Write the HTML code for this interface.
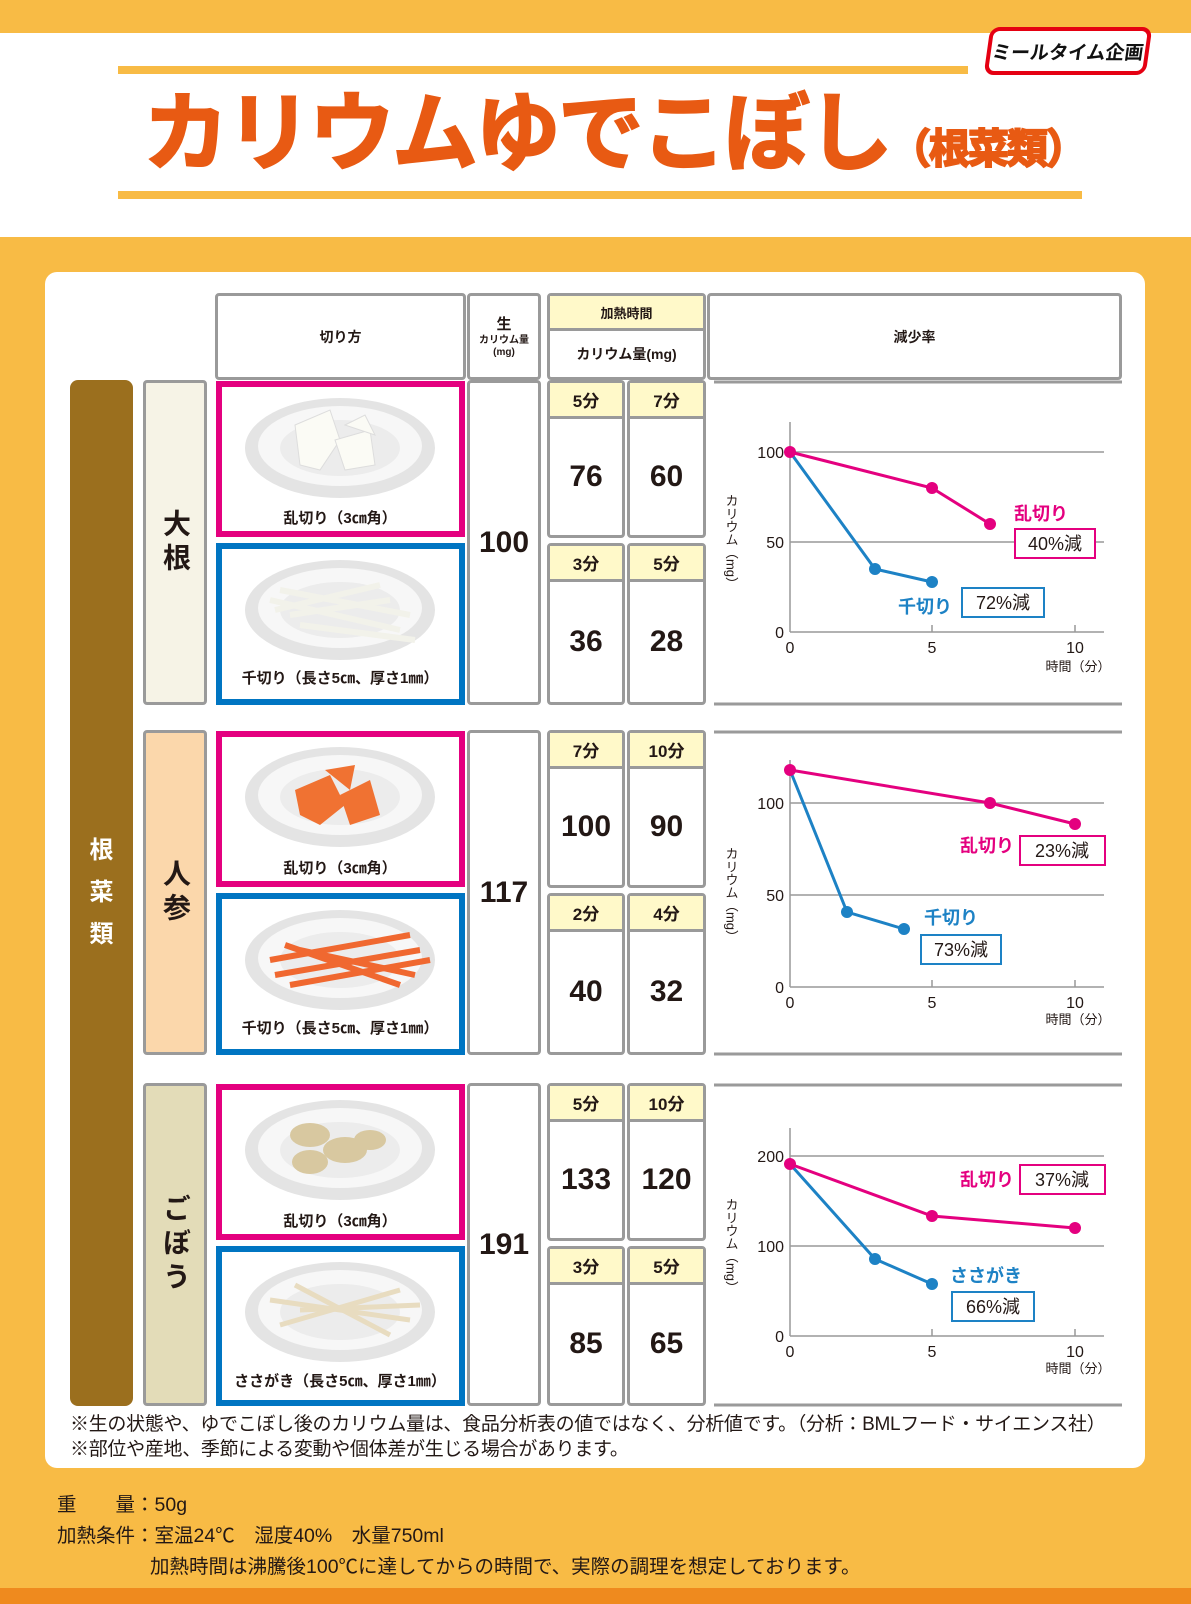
<!DOCTYPE html>
<html><head><meta charset="utf-8">
<style>
*{margin:0;padding:0;box-sizing:border-box}
body{width:1191px;height:1604px;position:relative;background:#f8bb45;font-family:"Liberation Sans","Noto Sans CJK JP",sans-serif;font-weight:bold;color:#231815;overflow:hidden}
.a{position:absolute}
.c{display:flex;align-items:center;justify-content:center;text-align:center}
.cell{position:absolute;border:3px solid #9a9a9a;border-radius:4px;background:#fff}
.y{background:#fff9c9}
.num{font-size:30px}
.tm{font-size:17px}
.v{writing-mode:vertical-rl;font-size:28px;letter-spacing:6px}
</style></head><body>
<div class="a" style="left:0;top:33px;width:1191px;height:204px;background:#fff"></div>
<div class="a" style="left:118px;top:66px;width:850px;height:8px;background:#f8bb45"></div>
<div class="a" style="left:118px;top:191px;width:964px;height:8px;background:#f8bb45"></div>
<div class="a c" style="left:987px;top:27px;width:162px;height:48px;border:4px solid #e50012;border-radius:10px;background:#fff;transform:skewX(-8deg);font-size:19px;color:#111">ミールタイム企画</div>
<div class="a" style="left:143px;top:84px;font-size:86px;color:#e85a13;letter-spacing:-3px;line-height:100px;white-space:nowrap;-webkit-text-stroke:2px #e85a13">カリウムゆでこぼし<span style="font-size:41px;letter-spacing:-2px">（根菜類）</span></div>

<div class="a" style="left:45px;top:272px;width:1100px;height:1196px;background:#fff;border-radius:12px"></div>

<div class="cell c" style="left:215px;top:293px;width:251px;height:87px;font-size:14px">切り方</div>
<div class="cell c" style="left:467px;top:293px;width:74px;height:87px;flex-direction:column;font-size:10px;line-height:12px"><div style="font-size:15px;line-height:20px">生</div><div>カリウム量</div><div>(mg)</div></div>
<div class="cell" style="left:547px;top:293px;width:159px;height:87px"></div>
<div class="a c y" style="left:550px;top:296px;width:153px;height:35px;font-size:13px;border-bottom:3px solid #9a9a9a">加熱時間</div>
<div class="a c" style="left:550px;top:331px;width:153px;height:46px;font-size:14px">カリウム量(mg)</div>
<div class="cell c" style="left:707px;top:293px;width:415px;height:87px;font-size:14px">減少率</div>

<div class="a c" style="left:70px;top:380px;width:63px;height:1026px;background:#9b6f1e;border-radius:8px;color:#fff;font-size:24px;flex-direction:column;line-height:42px">根<br>菜<br>類</div>

<div class="cell c" style="left:143px;top:380px;width:64px;height:325px;background:#f6f3e6"><span class="v">大根</span></div>
<div class="cell c" style="left:143px;top:730px;width:64px;height:325px;background:#fbd7ab"><span class="v">人参</span></div>
<div class="cell c" style="left:143px;top:1083px;width:64px;height:323px;background:#e3dcb8"><span class="v">ごぼう</span></div>

<div class="cell c num" style="left:467px;top:380px;width:74px;height:325px">100</div>
<div class="cell" style="left:547px;top:380px;width:78px;height:158px"></div>
<div class="a c y tm" style="left:550px;top:383px;width:72px;height:36px;border-bottom:3px solid #9a9a9a">5分</div>
<div class="a c num" style="left:550px;top:419px;width:72px;height:116px">76</div>
<div class="cell" style="left:627px;top:380px;width:79px;height:158px"></div>
<div class="a c y tm" style="left:630px;top:383px;width:73px;height:36px;border-bottom:3px solid #9a9a9a">7分</div>
<div class="a c num" style="left:630px;top:419px;width:73px;height:116px">60</div>
<div class="cell" style="left:547px;top:543px;width:78px;height:162px"></div>
<div class="a c y tm" style="left:550px;top:546px;width:72px;height:36px;border-bottom:3px solid #9a9a9a">3分</div>
<div class="a c num" style="left:550px;top:582px;width:72px;height:120px">36</div>
<div class="cell" style="left:627px;top:543px;width:79px;height:162px"></div>
<div class="a c y tm" style="left:630px;top:546px;width:73px;height:36px;border-bottom:3px solid #9a9a9a">5分</div>
<div class="a c num" style="left:630px;top:582px;width:73px;height:120px">28</div>

<div class="cell c num" style="left:467px;top:730px;width:74px;height:325px">117</div>
<div class="cell" style="left:547px;top:730px;width:78px;height:158px"></div>
<div class="a c y tm" style="left:550px;top:733px;width:72px;height:36px;border-bottom:3px solid #9a9a9a">7分</div>
<div class="a c num" style="left:550px;top:769px;width:72px;height:116px">100</div>
<div class="cell" style="left:627px;top:730px;width:79px;height:158px"></div>
<div class="a c y tm" style="left:630px;top:733px;width:73px;height:36px;border-bottom:3px solid #9a9a9a">10分</div>
<div class="a c num" style="left:630px;top:769px;width:73px;height:116px">90</div>
<div class="cell" style="left:547px;top:893px;width:78px;height:162px"></div>
<div class="a c y tm" style="left:550px;top:896px;width:72px;height:36px;border-bottom:3px solid #9a9a9a">2分</div>
<div class="a c num" style="left:550px;top:932px;width:72px;height:120px">40</div>
<div class="cell" style="left:627px;top:893px;width:79px;height:162px"></div>
<div class="a c y tm" style="left:630px;top:896px;width:73px;height:36px;border-bottom:3px solid #9a9a9a">4分</div>
<div class="a c num" style="left:630px;top:932px;width:73px;height:120px">32</div>

<div class="cell c num" style="left:467px;top:1083px;width:74px;height:323px">191</div>
<div class="cell" style="left:547px;top:1083px;width:78px;height:158px"></div>
<div class="a c y tm" style="left:550px;top:1086px;width:72px;height:36px;border-bottom:3px solid #9a9a9a">5分</div>
<div class="a c num" style="left:550px;top:1122px;width:72px;height:116px">133</div>
<div class="cell" style="left:627px;top:1083px;width:79px;height:158px"></div>
<div class="a c y tm" style="left:630px;top:1086px;width:73px;height:36px;border-bottom:3px solid #9a9a9a">10分</div>
<div class="a c num" style="left:630px;top:1122px;width:73px;height:116px">120</div>
<div class="cell" style="left:547px;top:1246px;width:78px;height:160px"></div>
<div class="a c y tm" style="left:550px;top:1249px;width:72px;height:36px;border-bottom:3px solid #9a9a9a">3分</div>
<div class="a c num" style="left:550px;top:1285px;width:72px;height:118px">85</div>
<div class="cell" style="left:627px;top:1246px;width:79px;height:160px"></div>
<div class="a c y tm" style="left:630px;top:1249px;width:73px;height:36px;border-bottom:3px solid #9a9a9a">5分</div>
<div class="a c num" style="left:630px;top:1285px;width:73px;height:118px">65</div>

<svg class="a" style="left:0;top:0" width="1191" height="1604" font-family="Liberation Sans, Noto Sans CJK JP, sans-serif" font-weight="bold">
<defs>
<g id="plate"><ellipse cx="0" cy="0" rx="95" ry="50" fill="#e4e4e4"/><ellipse cx="0" cy="-2" rx="82" ry="40" fill="#f7f7f7"/><ellipse cx="0" cy="0" rx="60" ry="28" fill="#ececec"/></g>
</defs>
<g fill="#fff" stroke-width="6">
<rect x="219" y="384" width="243" height="150" stroke="#e4007f"/>
<rect x="219" y="546" width="243" height="156" stroke="#0075c2"/>
<rect x="219" y="734" width="243" height="150" stroke="#e4007f"/>
<rect x="219" y="896" width="243" height="156" stroke="#0075c2"/>
<rect x="219" y="1087" width="243" height="150" stroke="#e4007f"/>
<rect x="219" y="1249" width="243" height="154" stroke="#0075c2"/>
</g>
<use href="#plate" x="340" y="448"/><use href="#plate" x="340" y="610"/>
<use href="#plate" x="340" y="797"/><use href="#plate" x="340" y="960"/>
<use href="#plate" x="340" y="1150"/><use href="#plate" x="340" y="1312"/>
<g fill="#fbfbf5" stroke="#ddd"><polygon points="295,425 330,410 340,440 320,470 300,465"/><polygon points="335,440 370,430 375,465 345,470"/><polygon points="345,425 365,415 375,435"/></g>
<g stroke="#f2f2ea" stroke-width="6"><line x1="270" y1="600" x2="400" y2="630"/><line x1="280" y1="590" x2="410" y2="615"/><line x1="290" y1="615" x2="390" y2="600"/><line x1="300" y1="625" x2="415" y2="640"/><line x1="275" y1="610" x2="380" y2="585"/></g>
<g fill="#f07232"><polygon points="295,790 330,775 345,805 320,825 300,815"/><polygon points="340,795 370,780 380,815 350,825"/><polygon points="325,770 355,765 350,790"/></g>
<g stroke="#f06830" stroke-width="6"><line x1="270" y1="960" x2="410" y2="935"/><line x1="275" y1="975" x2="420" y2="950"/><line x1="285" y1="945" x2="400" y2="985"/><line x1="290" y1="985" x2="430" y2="960"/><line x1="300" y1="950" x2="415" y2="975"/></g>
<g fill="#d8c8a0"><ellipse cx="310" cy="1135" rx="20" ry="12"/><ellipse cx="345" cy="1150" rx="22" ry="13"/><ellipse cx="310" cy="1162" rx="18" ry="12"/><ellipse cx="370" cy="1140" rx="16" ry="10"/></g>
<g stroke="#e8dcc0" stroke-width="5"><line x1="270" y1="1300" x2="410" y2="1320"/><line x1="280" y1="1325" x2="400" y2="1290"/><line x1="295" y1="1285" x2="390" y2="1335"/><line x1="300" y1="1310" x2="420" y2="1305"/></g>
<g font-size="15" fill="#231815" text-anchor="middle">
<text x="340" y="523">乱切り（3㎝角）</text>
<text x="340" y="683">千切り（長さ5㎝、厚さ1㎜）</text>
<text x="340" y="873">乱切り（3㎝角）</text>
<text x="340" y="1033">千切り（長さ5㎝、厚さ1㎜）</text>
<text x="340" y="1226">乱切り（3㎝角）</text>
<text x="340" y="1386">ささがき（長さ5㎝、厚さ1㎜）</text>
</g>

<g stroke="#9a9a9a" stroke-width="3">
<line x1="714" y1="382" x2="1122" y2="382"/><line x1="714" y1="704" x2="1122" y2="704"/>
<line x1="714" y1="732" x2="1122" y2="732"/><line x1="714" y1="1054" x2="1122" y2="1054"/>
<line x1="714" y1="1085" x2="1122" y2="1085"/><line x1="714" y1="1405" x2="1122" y2="1405"/>
</g>

<g font-weight="normal" font-size="16" fill="#231815">
<g stroke="#999" stroke-width="1.5"><line x1="790" y1="422" x2="790" y2="632"/><line x1="790" y1="632" x2="1104" y2="632"/><line x1="790" y1="452" x2="1104" y2="452"/><line x1="790" y1="542" x2="1104" y2="542"/><line x1="932" y1="625" x2="932" y2="632"/><line x1="1075" y1="625" x2="1075" y2="632"/></g>
<g text-anchor="end"><text x="784" y="458">100</text><text x="784" y="548">50</text><text x="784" y="638">0</text></g>
<g text-anchor="middle"><text x="790" y="653">0</text><text x="932" y="653">5</text><text x="1075" y="653">10</text><text x="1078" y="671" font-size="13">時間（分）</text></g>
<text x="731" y="542" font-size="13" writing-mode="tb" text-anchor="middle">カリウム（mg）</text>
<polyline points="790,452 932,488 990,524" fill="none" stroke="#e4007f" stroke-width="3"/>
<polyline points="790,452 875,569 932,582" fill="none" stroke="#1d82c5" stroke-width="3"/>
<g fill="#e4007f"><circle cx="790" cy="452" r="6"/><circle cx="932" cy="488" r="6"/><circle cx="990" cy="524" r="6"/></g>
<g fill="#1d82c5"><circle cx="875" cy="569" r="6"/><circle cx="932" cy="582" r="6"/></g>
<text x="1014" y="520" font-size="18" font-weight="bold" fill="#e4007f">乱切り</text>
<rect x="1015" y="529" width="80" height="29" fill="#fff" stroke="#e4007f" stroke-width="2"/>
<text x="1055" y="550" font-size="18" text-anchor="middle">40%減</text>
<text x="898" y="613" font-size="18" font-weight="bold" fill="#1d82c5">千切り</text>
<rect x="962" y="588" width="82" height="29" fill="#fff" stroke="#1d82c5" stroke-width="2"/>
<text x="1003" y="609" font-size="18" text-anchor="middle">72%減</text>

<g stroke="#999" stroke-width="1.5"><line x1="790" y1="760" x2="790" y2="987"/><line x1="790" y1="987" x2="1104" y2="987"/><line x1="790" y1="803" x2="1104" y2="803"/><line x1="790" y1="895" x2="1104" y2="895"/><line x1="932" y1="980" x2="932" y2="987"/><line x1="1075" y1="980" x2="1075" y2="987"/></g>
<g text-anchor="end"><text x="784" y="809">100</text><text x="784" y="901">50</text><text x="784" y="993">0</text></g>
<g text-anchor="middle"><text x="790" y="1008">0</text><text x="932" y="1008">5</text><text x="1075" y="1008">10</text><text x="1078" y="1024" font-size="13">時間（分）</text></g>
<text x="731" y="895" font-size="13" writing-mode="tb" text-anchor="middle">カリウム（mg）</text>
<polyline points="790,770 990,803 1075,824" fill="none" stroke="#e4007f" stroke-width="3"/>
<polyline points="790,770 847,912 904,929" fill="none" stroke="#1d82c5" stroke-width="3"/>
<g fill="#e4007f"><circle cx="790" cy="770" r="6"/><circle cx="990" cy="803" r="6"/><circle cx="1075" cy="824" r="6"/></g>
<g fill="#1d82c5"><circle cx="847" cy="912" r="6"/><circle cx="904" cy="929" r="6"/></g>
<text x="960" y="852" font-size="18" font-weight="bold" fill="#e4007f">乱切り</text>
<rect x="1020" y="836" width="85" height="29" fill="#fff" stroke="#e4007f" stroke-width="2"/>
<text x="1062" y="857" font-size="18" text-anchor="middle">23%減</text>
<text x="924" y="924" font-size="18" font-weight="bold" fill="#1d82c5">千切り</text>
<rect x="921" y="935" width="80" height="29" fill="#fff" stroke="#1d82c5" stroke-width="2"/>
<text x="961" y="956" font-size="18" text-anchor="middle">73%減</text>

<g stroke="#999" stroke-width="1.5"><line x1="790" y1="1128" x2="790" y2="1336"/><line x1="790" y1="1336" x2="1104" y2="1336"/><line x1="790" y1="1156" x2="1104" y2="1156"/><line x1="790" y1="1246" x2="1104" y2="1246"/><line x1="932" y1="1329" x2="932" y2="1336"/><line x1="1075" y1="1329" x2="1075" y2="1336"/></g>
<g text-anchor="end"><text x="784" y="1162">200</text><text x="784" y="1252">100</text><text x="784" y="1342">0</text></g>
<g text-anchor="middle"><text x="790" y="1357">0</text><text x="932" y="1357">5</text><text x="1075" y="1357">10</text><text x="1078" y="1373" font-size="13">時間（分）</text></g>
<text x="731" y="1246" font-size="13" writing-mode="tb" text-anchor="middle">カリウム（mg）</text>
<polyline points="790,1164 932,1216 1075,1228" fill="none" stroke="#e4007f" stroke-width="3"/>
<polyline points="790,1164 875,1259 932,1284" fill="none" stroke="#1d82c5" stroke-width="3"/>
<g fill="#e4007f"><circle cx="790" cy="1164" r="6"/><circle cx="932" cy="1216" r="6"/><circle cx="1075" cy="1228" r="6"/></g>
<g fill="#1d82c5"><circle cx="875" cy="1259" r="6"/><circle cx="932" cy="1284" r="6"/></g>
<text x="960" y="1186" font-size="18" font-weight="bold" fill="#e4007f">乱切り</text>
<rect x="1020" y="1165" width="85" height="29" fill="#fff" stroke="#e4007f" stroke-width="2"/>
<text x="1062" y="1186" font-size="18" text-anchor="middle">37%減</text>
<text x="950" y="1282" font-size="18" font-weight="bold" fill="#1d82c5">ささがき</text>
<rect x="952" y="1292" width="82" height="29" fill="#fff" stroke="#1d82c5" stroke-width="2"/>
<text x="993" y="1313" font-size="18" text-anchor="middle">66%減</text>
</g>
</svg>

<div class="a" style="left:70px;top:1412px;font-size:19px;font-weight:normal;line-height:25px;white-space:nowrap;letter-spacing:-0.3px">※生の状態や、ゆでこぼし後のカリウム量は、食品分析表の値ではなく、分析値です。（分析：BMLフード・サイエンス社）<br>※部位や産地、季節による変動や個体差が生じる場合があります。</div>
<div class="a" style="left:57px;top:1490px;font-size:19.5px;font-weight:normal;line-height:31px;white-space:nowrap">重　　量：50g<br>加熱条件：室温24℃　湿度40%　水量750ml<br><span style="padding-left:93px">加熱時間は沸騰後100℃に達してからの時間で、実際の調理を想定しております。</span></div>
<div class="a" style="left:0;top:1588px;width:1191px;height:16px;background:#ef8a1e"></div>
</body></html>
